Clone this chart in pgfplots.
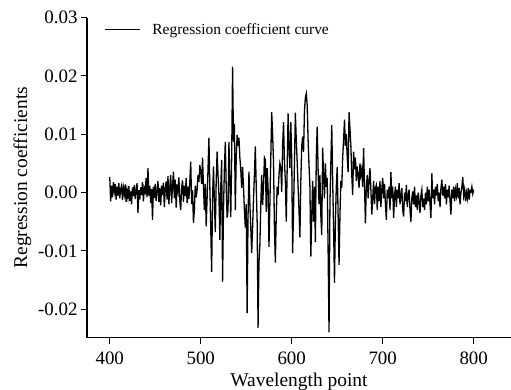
\documentclass[border=0pt]{standalone}
\usepackage{fontspec}
\setmainfont{Liberation Serif}
\usepackage{pgfplots}
\pgfplotsset{compat=1.18}
\begin{document}
\begin{tikzpicture}
\begin{axis}[
  scale only axis,
  width=424bp, height=320bp,
  xmin=375, xmax=841,
  ymin=-0.0249, ymax=0.03,
  axis lines=left,
  axis line style={-, line width=1.1bp, black},
  tick align=outside,
  major tick length=6bp,
  tick style={line width=1bp, black},
  scaled y ticks=false,
  scaled x ticks=false,
  xtick={400,500,600,700,800},
  ytick={-0.02,-0.01,0,0.01,0.02,0.03},
  yticklabels={-0.02,-0.01,0.00,0.01,0.02,0.03},
  xticklabels={400,500,600,700,800},
  ticklabel style={font=\fontsize{19}{22}\selectfont},
  xticklabel style={yshift=-5bp},
  xlabel={Wavelength point},
  ylabel={Regression coefficients},
  label style={font=\fontsize{19.5}{22}\selectfont},
  xlabel style={yshift=-1bp},
  legend style={draw=none, fill=none, at={(0.04,0.963)}, anchor=west, inner sep=0pt, font=\fontsize{15.5}{18}\selectfont},
  legend image code/.code={\draw[#1] (0bp,0bp) -- (35bp,0bp); \path (45bp,0bp);},
]
\addplot[black, line width=1.3bp] coordinates {
(400,0.0027)(401,-0.0015)(402,0.0012)(403,-0.0008)(404,0.0018)(405,0.0002)(406,0.0015)(407,-0.0012)(408,0.0010)(409,-0.0005)
(410,0.0016)(411,-0.0010)(412,0.0006)(413,0.0012)(414,-0.0013)(415,0.0008)(416,-0.0003)(417,0.0014)(418,-0.0016)(419,0.0004)
(420,-0.0008)(421,0.0011)(422,-0.0014)(423,0.0002)(424,-0.0020)(425,0.0009)(426,-0.0006)(427,0.0013)(428,-0.0011)(429,0.0005)
(430,0.0016)(431,-0.0035)(432,0.0004)(433,-0.0012)(434,0.0009)(435,-0.0004)(436,0.0018)(437,-0.0015)(438,0.0007)(439,0.0001)
(440,0.0025)(441,-0.0008)(442,0.0042)(443,-0.0005)(444,0.0012)(445,-0.0018)(446,0.0006)(447,-0.0047)(448,0.0010)(449,-0.0009)
(450,0.0015)(451,-0.0014)(452,0.0003)(453,0.0020)(454,-0.0016)(455,0.0008)(456,-0.0022)(457,0.0012)(458,-0.0004)(459,0.0017)
(460,-0.0025)(461,0.0006)(462,0.0019)(463,-0.0012)(464,0.0028)(465,-0.0020)(466,0.0009)(467,0.0030)(468,-0.0018)(469,0.0011)
(470,0.0036)(471,-0.0009)(472,0.0022)(473,-0.0026)(474,0.0014)(475,0.0003)(476,0.0026)(477,-0.0014)(478,-0.0030)(479,0.0008)
(480,0.0021)(481,-0.0016)(482,0.0012)(483,-0.0006)(484,0.0025)(485,-0.0018)(486,0.0010)(487,-0.0011)(488,0.0018)(489,0.0053)
(490,-0.0020)(491,0.0004)(492,-0.0052)(493,-0.0030)(494,0.0012)(495,-0.0008)(496,0.0005)(497,0.0030)(498,0.0018)(499,0.0047)
(500,0.0035)(501,0.0015)(502,0.0060)(503,0.0010)(504,-0.0030)(505,0.0015)(506,-0.0058)(507,-0.0010)(508,0.0040)(509,0.0094)
(510,0.0010)(511,-0.0060)(512,-0.0136)(513,-0.0010)(514,0.0045)(515,-0.0015)(516,-0.0068)(517,0.0020)(518,0.0070)(519,0.0030)
(520,-0.0004)(521,-0.0081)(522,0.0010)(523,0.0056)(524,-0.0153)(525,-0.0030)(526,0.0040)(527,0.0087)(528,0.0010)(529,-0.0043)
(530,-0.0030)(531,0.0087)(532,0.0020)(533,-0.0042)(534,0.0060)(535,0.0216)(536,0.0087)(537,0.0118)(538,-0.0030)(539,0.0060)
(540,0.0099)(541,0.0080)(542,0.0094)(543,0.0060)(544,0.0040)(545,0.0008)(546,0.0044)(547,0.0010)(548,-0.0030)(549,-0.0060)
(550,-0.0020)(551,-0.0207)(552,-0.0040)(553,0.0036)(554,-0.0020)(555,-0.0060)(556,-0.0104)(557,-0.0060)(558,-0.0010)(559,0.0030)
(560,0.0079)(561,0.0010)(562,-0.0050)(563,-0.0232)(564,-0.0120)(565,-0.0090)(566,-0.0021)(567,0.0030)(568,-0.0021)(569,0.0010)
(570,0.0060)(571,0.0056)(572,-0.0033)(573,0.0042)(574,0.0010)(575,-0.0093)(576,-0.0020)(577,0.0060)(578,0.0138)(579,0.0100)
(580,0.0053)(581,-0.0060)(582,-0.0120)(583,-0.0040)(584,0.0010)(585,-0.0004)(586,0.0030)(587,0.0050)(588,0.0042)(589,0.0001)
(590,0.0080)(591,0.0121)(592,0.0053)(593,0.0020)(594,-0.0050)(595,0.0040)(596,0.0136)(597,0.0080)(598,0.0042)(599,0.0121)
(600,0.0060)(601,-0.0104)(602,-0.0030)(603,0.0050)(604,0.0137)(605,0.0090)(606,0.0053)(607,0.0010)(608,-0.0030)(609,-0.0077)
(610,0.0020)(611,0.0080)(612,0.0096)(613,0.0070)(614,0.0140)(615,0.0163)(616,0.0170)(617,0.0150)(618,0.0090)(619,0.0047)
(620,0.0010)(621,-0.0110)(622,-0.0040)(623,0.0020)(624,-0.0050)(625,0.0010)(626,-0.0085)(627,0.0060)(628,0.0113)(629,0.0040)
(630,-0.0020)(631,0.0030)(632,-0.0040)(633,-0.0073)(634,0.0077)(635,0.0030)(636,-0.0010)(637,0.0050)(638,0.0010)(639,0.0025)
(640,-0.0100)(641,-0.0240)(642,-0.0020)(643,0.0050)(644,0.0116)(645,0.0020)(646,-0.0060)(647,-0.0155)(648,-0.0050)(649,0.0010)
(650,0.0044)(651,-0.0040)(652,-0.0124)(653,-0.0040)(654,0.0020)(655,0.0008)(656,0.0060)(657,0.0090)(658,0.0125)(659,0.0080)
(660,0.0100)(661,0.0060)(662,0.0035)(663,0.0138)(664,0.0110)(665,0.0080)(666,0.0030)(667,-0.0004)(668,0.0070)(669,0.0040)
(670,0.0060)(671,0.0020)(672,0.0045)(673,0.0030)(674,0.0008)(675,0.0050)(676,0.0030)(677,0.0040)(678,0.0010)(679,0.0076)
(680,0.0010)(681,-0.0053)(682,0.0010)(683,0.0030)(684,-0.0010)(685,0.0020)(686,0.0042)(687,0.0005)(688,-0.0038)(689,-0.0010)
(690,0.0020)(691,-0.0020)(692,0.0008)(693,0.0013)(694,-0.0030)(695,0.0010)(696,-0.0015)(697,0.0020)(698,-0.0025)(699,0.0005)
(700,0.0025)(701,-0.0010)(702,0.0015)(703,-0.0020)(704,-0.0047)(705,0.0005)(706,-0.0010)(707,0.0010)(708,-0.0030)(709,0.0035)
(710,-0.0010)(711,0.0010)(712,-0.0044)(713,-0.0005)(714,0.0010)(715,-0.0025)(716,0.0005)(717,-0.0010)(718,0.0016)(719,-0.0020)
(720,-0.0005)(721,0.0008)(722,-0.0030)(723,-0.0041)(724,0.0000)(725,-0.0015)(726,0.0013)(727,-0.0025)(728,-0.0005)(729,0.0005)
(730,-0.0030)(731,-0.0050)(732,-0.0010)(733,0.0002)(734,-0.0020)(735,0.0010)(736,-0.0025)(737,-0.0005)(738,-0.0030)(739,0.0000)
(740,-0.0015)(741,-0.0035)(742,-0.0005)(743,0.0005)(744,-0.0025)(745,-0.0010)(746,-0.0030)(747,0.0000)(748,-0.0020)(749,0.0010)
(750,-0.0015)(751,0.0005)(752,-0.0020)(753,-0.0044)(754,0.0033)(755,-0.0010)(756,0.0005)(757,-0.0020)(758,0.0010)(759,-0.0005)
(760,0.0015)(761,-0.0015)(762,0.0000)(763,-0.0025)(764,0.0008)(765,0.0022)(766,-0.0005)(767,0.0010)(768,-0.0010)(769,0.0015)
(770,-0.0020)(771,0.0005)(772,-0.0008)(773,0.0012)(774,-0.0015)(775,-0.0038)(776,0.0005)(777,-0.0010)(778,0.0010)(779,-0.0015)
(780,0.0005)(781,-0.0005)(782,0.0016)(783,-0.0010)(784,0.0008)(785,-0.0020)(786,0.0000)(787,0.0010)(788,0.0027)(789,-0.0005)
(790,0.0005)(791,-0.0015)(792,0.0000)(793,-0.0010)(794,0.0008)(795,-0.0012)(796,0.0003)(797,0.0001)(798,0.0010)(799,-0.0002)
(800,0.0005)
};
\addlegendentry{Regression coefficient curve}
\end{axis}
\pgfresetboundingbox
\path[use as bounding box] ([xshift=-87bp,yshift=-52bp]current axis.south west) rectangle ([yshift=17.7bp]current axis.north east);
\end{tikzpicture}
\end{document}
